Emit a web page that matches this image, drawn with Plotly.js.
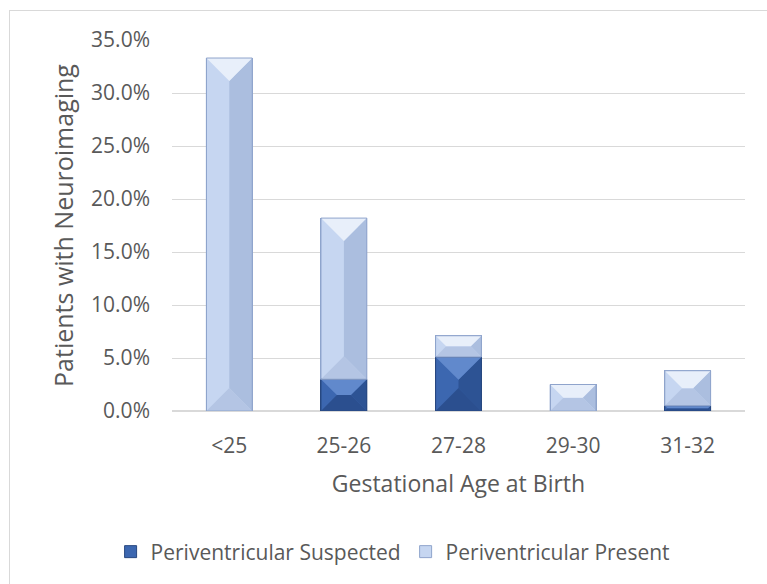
<!DOCTYPE html>
<html>
<head>
<meta charset="utf-8">
<script src="https://cdn.plot.ly/plotly-3.0.1.min.js"></script>
<style>
  html, body { margin: 0; padding: 0; background: #fff; }
  #wrap { position: relative; width: 767px; height: 584px; }
  #chart { width: 767px; height: 584px; }
  #frame { position: absolute; left: 9px; top: 10px; right: -2px; bottom: -2px;
           border: 1px solid #d9d9d9; pointer-events: none; }
</style>
</head>
<body>
<div id="wrap">
  <div id="chart"></div>
  <div id="frame"></div>
</div>
<script>
// ===== Dados =====
const categorias = ["<25", "25-26", "27-28", "29-30", "31-32"];
const suspeito = [0, 3.0, 5.1, 0, 0.5];      // Periventricular Suspected (%)
const presente = [33.3, 15.2, 2.0, 2.5, 3.3]; // Periventricular Present (%)
const yTicks = [0, 5, 10, 15, 20, 25, 30, 35];

// ===== Estilo =====
const FONTE = "Open Sans, Noto Sans, sans-serif";
const CINZA = "#595959";
const LARG_BARRA = 0.4;
const M = { l: 172, r: 22, t: 40, b: 173 };
const Y_MAX = 35;

const corEscura = { base: "#3c67b0", right: "#2d5394", bottom: "#2b4f8f", top: "#6189cc", line: "#284880" };
const corClara = { base: "#c6d6f1", right: "#abbedf", bottom: "#b4c5e4", top: "#e8effa", line: "#8fa4cc" };

const xIdx = categorias.map((_, i) => i);

// px por unidade (para o chanfro ficar com 45 graus)
const pxX = (767 - M.l - M.r) / categorias.length;
const pxY = (584 - M.t - M.b) / Y_MAX;

function caminho(pts) {
  return "M" + pts.map(p => p[0] + "," + p[1]).join("L") + "Z";
}

function face(path, cor) {
  return { type: "path", xref: "x", yref: "y", path, fillcolor: cor, line: { width: 0 }, layer: "above" };
}

// faces do chanfro de um segmento (a face esquerda é a própria barra)
function chanfro(i, y0, y1, c) {
  const h = (y1 - y0) * pxY;
  if (h <= 0) return [];
  const half = LARG_BARRA / 2;
  const inset = Math.min(half * pxX, h / 2);
  const dx = inset / pxX, dy = inset / pxY;
  const xl = i - half, xr = i + half;
  const il = xl + dx, ir = xr - dx, ib = y0 + dy, it = y1 - dy;
  return [
    face(caminho([[xr, y1], [ir, it], [ir, ib], [xr, y0]]), c.right),
    face(caminho([[xl, y0], [xr, y0], [ir, ib], [il, ib]]), c.bottom),
    face(caminho([[xl, y1], [xr, y1], [ir, it], [il, it]]), c.top),
    { type: "rect", xref: "x", yref: "y", x0: xl, x1: xr, y0, y1,
      fillcolor: "rgba(0,0,0,0)", line: { color: c.line, width: 1 }, layer: "above" },
  ];
}

const shapes = [];
xIdx.forEach(i => {
  shapes.push(...chanfro(i, 0, suspeito[i], corEscura));
  shapes.push(...chanfro(i, suspeito[i], suspeito[i] + presente[i], corClara));
});

const data = [
  {
    x: xIdx, y: suspeito, type: "bar", name: "Periventricular Suspected",
    marker: { color: corEscura.base, line: { color: corEscura.line, width: 1 } },
    hoverinfo: "skip",
  },
  {
    x: xIdx, y: presente, type: "bar", name: "Periventricular Present",
    marker: { color: corClara.base, line: { color: corClara.line, width: 1 } },
    hoverinfo: "skip",
  },
];

const layout = {
  width: 767,
  height: 584,
  margin: M,
  barmode: "stack",
  bargap: 1 - LARG_BARRA,
  paper_bgcolor: "#fff",
  plot_bgcolor: "#fff",
  font: { family: FONTE, color: CINZA, size: 21 },
  xaxis: {
    range: [-0.5, categorias.length - 0.5],
    tickvals: xIdx,
    ticktext: categorias,
    showgrid: false,
    zeroline: false,
    showline: false,
    ticks: "",
    ticklabelstandoff: 20,
    tickfont: { size: 21, color: CINZA },
    title: { text: "Gestational Age at Birth", font: { size: 23, color: CINZA }, standoff: 17 },
  },
  yaxis: {
    range: [0, Y_MAX],
    tickvals: yTicks,
    ticktext: yTicks.map(v => v.toFixed(1) + "%"),
    showgrid: true,
    gridcolor: "#d9d9d9",
    gridwidth: 1,
    zeroline: true,
    zerolinecolor: "#d9d9d9",
    zerolinewidth: 1.5,
    showline: false,
    ticks: "",
    ticklabelstandoff: 21,
    tickfont: { size: 21, color: CINZA },
    title: { text: "Patients with Neuroimaging", font: { size: 25, color: CINZA }, standoff: 10 },
  },
  legend: {
    orientation: "h",
    x: 0.385,
    xanchor: "center",
    y: -0.38,
    yanchor: "middle",
    font: { size: 21, color: CINZA },
    traceorder: "normal",
  },
  shapes,
};

Plotly.newPlot("chart", data, layout, { displayModeBar: false, staticPlot: true });
</script>
</body>
</html>
